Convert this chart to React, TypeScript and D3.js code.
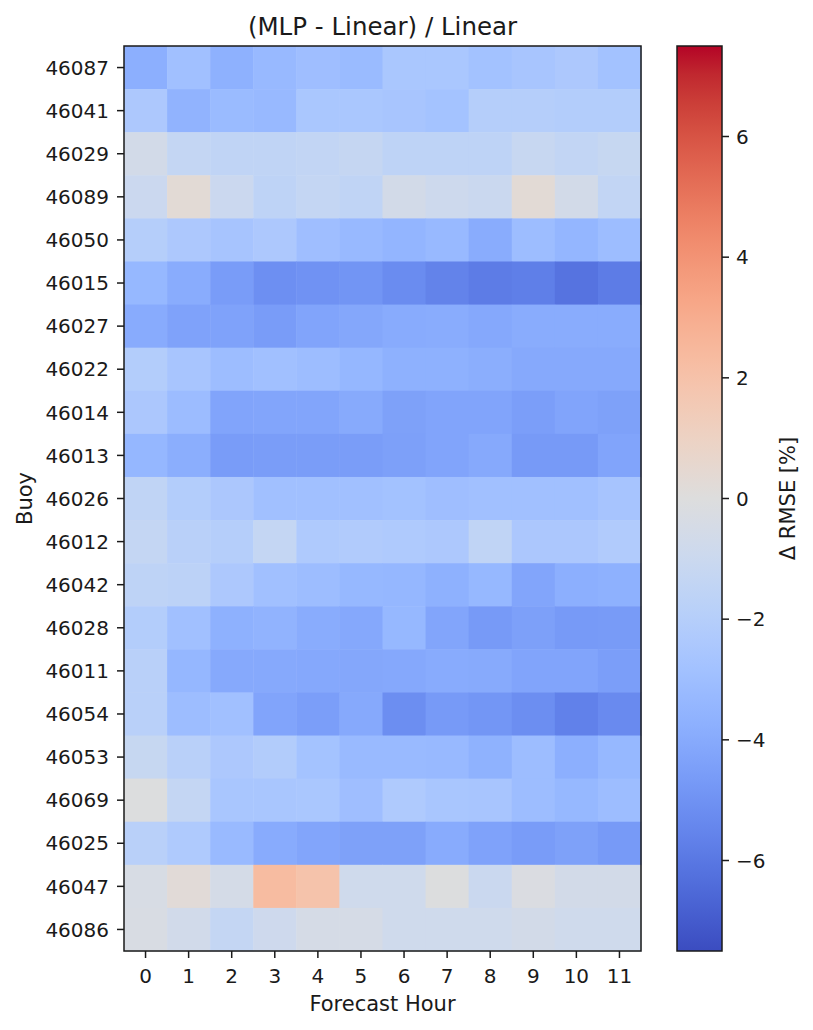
import React from "react";
import * as d3 from "d3";

const buoys = [
  "46087", "46041", "46029", "46089", "46050", "46015", "46027", "46022",
  "46014", "46013", "46026", "46012", "46042", "46028", "46011", "46054",
  "46053", "46069", "46025", "46047", "46086",
];
const hours = [0, 1, 2, 3, 4, 5, 6, 7, 8, 9, 10, 11];

// relative RMSE change [%], one row per buoy, one value per forecast hour
const values = [
  [-3.8, -2.9, -3.7, -3.3, -3.0, -3.2, -2.5, -2.5, -2.8, -2.6, -2.4, -2.8],
  [-2.4, -3.6, -3.2, -3.3, -2.5, -2.5, -2.6, -2.75, -2.0, -2.0, -2.1, -2.1],
  [-0.6, -1.3, -1.5, -1.5, -1.4, -1.25, -1.6, -1.6, -1.6, -1.15, -1.4, -1.2],
  [-1.0, 0.3, -1.0, -1.6, -1.3, -1.5, -0.6, -0.9, -1.05, 0.3, -0.6, -1.4],
  [-2.0, -2.4, -2.65, -2.4, -3.0, -3.3, -3.5, -3.3, -3.9, -3.05, -3.45, -3.05],
  [-3.35, -3.9, -4.6, -5.1, -5.0, -4.9, -5.25, -5.6, -5.85, -5.75, -6.15, -5.85],
  [-3.95, -4.35, -4.35, -4.6, -4.25, -4.15, -3.95, -3.9, -4.1, -3.9, -3.9, -3.9],
  [-2.1, -2.6, -3.05, -2.9, -3.05, -3.4, -3.7, -3.7, -3.85, -4.05, -4.05, -4.05],
  [-2.45, -3.1, -4.25, -4.2, -4.2, -4.0, -4.4, -4.25, -4.25, -4.5, -4.25, -4.4],
  [-3.4, -3.85, -4.6, -4.55, -4.55, -4.55, -4.45, -4.25, -4.05, -4.7, -4.7, -4.25],
  [-1.5, -2.1, -2.45, -2.9, -2.9, -2.9, -2.8, -3.0, -2.9, -2.9, -2.9, -2.65],
  [-1.3, -1.85, -2.0, -1.3, -2.3, -2.2, -2.3, -2.4, -1.5, -2.45, -2.45, -2.2],
  [-1.6, -1.7, -2.4, -2.9, -3.05, -3.35, -3.4, -3.7, -3.35, -4.2, -3.8, -3.7],
  [-2.1, -2.9, -3.7, -3.6, -3.9, -4.1, -3.35, -4.2, -4.7, -4.45, -4.7, -4.65],
  [-1.85, -3.4, -4.05, -4.05, -4.1, -4.15, -4.1, -3.95, -4.0, -4.25, -4.25, -4.5],
  [-1.85, -3.05, -2.9, -4.25, -4.5, -4.05, -5.15, -4.7, -4.85, -5.15, -5.65, -5.3],
  [-1.2, -1.85, -2.4, -2.15, -2.75, -3.25, -3.25, -3.3, -3.65, -3.05, -3.8, -3.35],
  [-0.05, -1.3, -2.55, -2.55, -2.5, -3.0, -2.3, -2.55, -2.6, -3.05, -3.35, -3.05],
  [-1.85, -2.3, -3.25, -3.95, -4.2, -4.4, -4.4, -3.95, -4.35, -4.6, -4.4, -4.7],
  [-0.35, 0.25, -0.5, 2.3, 1.95, -0.8, -0.8, -0.05, -1.05, -0.2, -0.6, -0.6],
  [-0.3, -0.7, -1.3, -0.85, -0.45, -0.45, -0.8, -0.8, -0.8, -0.6, -0.8, -0.8],
];

const colorbarTicks = [-6, -4, -2, 0, 2, 4, 6];

// matplotlib "coolwarm" control colours (Moreland), evenly spaced 0..1
const coolwarm = [
  "#3b4cc0", "#445acc", "#4d68d7", "#5775e1", "#6282ea", "#6c8ef1", "#779af7",
  "#82a5fb", "#8db0fe", "#98b9ff", "#a3c2ff", "#aec9fd", "#b8d0f9", "#c2d5f4",
  "#ccd9ee", "#d5dbe6", "#dddddd", "#e5d8d1", "#ecd3c5", "#f1ccb9", "#f5c4ad",
  "#f7bba0", "#f7b194", "#f7a687", "#f49a7b", "#f18d6f", "#ec7f63", "#e57058",
  "#de604d", "#d55042", "#cb3e38", "#c0282f", "#b40426",
];

const W = 813;
const H = 1030;
const plot = { left: 124, right: 641, top: 46, bottom: 951 };
const cbar = { left: 677, right: 722 };
const vmin = -7.5;
const vmax = 7.5;
const font = "DejaVu Sans, sans-serif";
const ink = "#1a1a1a";
const tickSize = 20;
const labelSize = 21;

export default function App() {
  const x = d3
    .scaleBand<number>()
    .domain(hours)
    .range([plot.left, plot.right]);
  const y = d3
    .scaleBand<string>()
    .domain(buoys)
    .range([plot.top, plot.bottom]);

  const cmapT = d3
    .scaleLinear<string>()
    .domain(coolwarm.map((_, i) => i / (coolwarm.length - 1)))
    .range(coolwarm)
    .interpolate(d3.interpolateRgb)
    .clamp(true);
  const norm = d3.scaleLinear().domain([vmin, vmax]).range([0, 1]);
  const color = (v: number) => cmapT(norm(v));

  const cy = d3.scaleLinear().domain([vmin, vmax]).range([plot.bottom, plot.top]);
  const fmt = (v: number) => (v < 0 ? "\u2212" + Math.abs(v) : String(v));

  return (
    <svg
      width={W}
      height={H}
      viewBox={`0 0 ${W} ${H}`}
      style={{ position: "absolute", left: 0, top: 0, background: "#fff" }}
      fontFamily={font}
    >
      <defs>
        <linearGradient id="cw" x1="0" y1="1" x2="0" y2="0">
          {coolwarm.map((c, i) => (
            <stop key={i} offset={i / (coolwarm.length - 1)} stopColor={c} />
          ))}
        </linearGradient>
      </defs>

      {/* heatmap cells */}
      {values.map((row, r) =>
        row.map((v, c) => (
          <rect
            key={`${r}-${c}`}
            x={x(hours[c])}
            y={y(buoys[r])}
            width={x.bandwidth() + 0.5}
            height={y.bandwidth() + 0.5}
            fill={color(v)}
          />
        ))
      )}
      <rect
        x={plot.left}
        y={plot.top}
        width={plot.right - plot.left}
        height={plot.bottom - plot.top}
        fill="none"
        stroke={ink}
        strokeWidth={1.5}
      />

      {/* x axis */}
      {hours.map((h) => {
        const cx = (x(h) as number) + x.bandwidth() / 2;
        return (
          <g key={h}>
            <line x1={cx} x2={cx} y1={plot.bottom} y2={plot.bottom + 7} stroke={ink} strokeWidth={1.5} />
            <text x={cx} y={983} textAnchor="middle" fontSize={tickSize} fill={ink}>
              {h}
            </text>
          </g>
        );
      })}
      <text x={(plot.left + plot.right) / 2} y={1011} textAnchor="middle" fontSize={labelSize} fill={ink}>
        Forecast Hour
      </text>

      {/* y axis */}
      {buoys.map((b) => {
        const yy = (y(b) as number) + y.bandwidth() / 2;
        return (
          <g key={b}>
            <line x1={plot.left - 7} x2={plot.left} y1={yy} y2={yy} stroke={ink} strokeWidth={1.5} />
            <text x={109} y={yy} dy="0.36em" textAnchor="end" fontSize={tickSize} fill={ink}>
              {b}
            </text>
          </g>
        );
      })}
      <text
        transform={`translate(32,${(plot.top + plot.bottom) / 2}) rotate(-90)`}
        textAnchor="middle"
        fontSize={labelSize}
        fill={ink}
      >
        Buoy
      </text>

      {/* title */}
      <text x={(plot.left + plot.right) / 2} y={35} textAnchor="middle" fontSize={24.5} fill={ink}>
        (MLP - Linear) / Linear
      </text>

      {/* colorbar */}
      <rect
        x={cbar.left}
        y={plot.top}
        width={cbar.right - cbar.left}
        height={plot.bottom - plot.top}
        fill="url(#cw)"
        stroke={ink}
        strokeWidth={1.5}
      />
      {colorbarTicks.map((t) => (
        <g key={t}>
          <line x1={cbar.right} x2={cbar.right + 7} y1={cy(t)} y2={cy(t)} stroke={ink} strokeWidth={1.5} />
          <text x={736} y={cy(t)} dy="0.36em" fontSize={tickSize} fill={ink}>
            {fmt(t)}
          </text>
        </g>
      ))}
      <text
        transform={`translate(795,${(plot.top + plot.bottom) / 2}) rotate(-90)`}
        textAnchor="middle"
        fontSize={labelSize}
        fill={ink}
      >
        Δ RMSE [%]
      </text>
    </svg>
  );
}
